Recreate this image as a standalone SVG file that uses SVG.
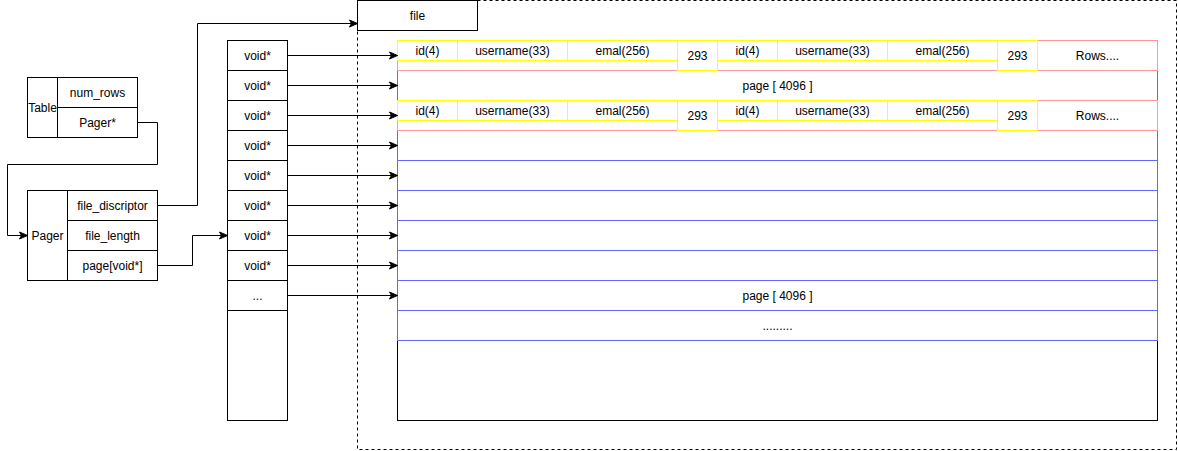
<svg xmlns="http://www.w3.org/2000/svg" width="1178" height="451" viewBox="0 0 1178 451">
<defs>
<marker id="arr" markerWidth="10" markerHeight="10" refX="9" refY="5" orient="auto" markerUnits="userSpaceOnUse">
<path d="M1,1.5 L9,5 L1,8.5 L3,5 Z" fill="#000" stroke="#000" stroke-width="1"/>
</marker>
</defs>
<style>
text{font-family:"Liberation Sans",Arial,sans-serif;font-size:12px;fill:#000;text-anchor:middle}
.b{fill:#fff;stroke:#000;stroke-width:1}
.bl{fill:none;stroke:#6666FF;stroke-width:1}
.pk{fill:none;stroke:#FF9999;stroke-width:1}
.yl{fill:none;stroke:#FFFF00;stroke-width:1}
.c{fill:none;stroke:#000;stroke-width:1;marker-end:url(#arr)}
</style>
<rect width="1178" height="451" fill="#fff"/>
<g id="file-container">
<rect x="357.5" y="0.5" width="819" height="449" fill="none" stroke="#000" stroke-dasharray="3,3"/>
</g>
<g id="file">
<rect class="b" x="357.5" y="0.5" width="120" height="30"/>
<text x="417.5" y="19.5">file</text>
</g>
<g id="table">
<rect class="b" x="27.5" y="77.5" width="110" height="60"/>
<line x1="57.5" y1="77.5" x2="57.5" y2="137.5" stroke="#000"/>
<line x1="57.5" y1="107.5" x2="137.5" y2="107.5" stroke="#000"/>
<text x="42.5" y="111.5">Table</text>
<text x="97.5" y="96.5">num_rows</text>
<text x="97.5" y="126.5">Pager*</text>
</g>
<g id="pager">
<rect class="b" x="27.5" y="190.5" width="130" height="90"/>
<line x1="67.5" y1="190.5" x2="67.5" y2="280.5" stroke="#000"/>
<line x1="67.5" y1="220.5" x2="157.5" y2="220.5" stroke="#000"/>
<line x1="67.5" y1="250.5" x2="157.5" y2="250.5" stroke="#000"/>
<text x="47.5" y="239.5">Pager</text>
<text x="112.5" y="209.5">file_discriptor</text>
<text x="112.5" y="239.5">file_length</text>
<text x="112.5" y="269.5">page[void*]</text>
</g>
<g id="void-array">
<rect class="b" x="227.5" y="40.5" width="60" height="380"/>
<path d="M227.5,70.5H287.5M227.5,100.5H287.5M227.5,130.5H287.5M227.5,160.5H287.5M227.5,190.5H287.5M227.5,220.5H287.5M227.5,250.5H287.5M227.5,280.5H287.5M227.5,310.5H287.5" stroke="#000" fill="none"/>
<text x="257.5" y="59.5">void*</text>
<text x="257.5" y="89.5">void*</text>
<text x="257.5" y="119.5">void*</text>
<text x="257.5" y="149.5">void*</text>
<text x="257.5" y="179.5">void*</text>
<text x="257.5" y="209.5">void*</text>
<text x="257.5" y="239.5">void*</text>
<text x="257.5" y="269.5">void*</text>
<text x="257.5" y="299.5">...</text>
</g>
<g id="pages">
<rect class="b" x="397.5" y="40.5" width="760" height="380"/>
<rect class="bl" x="397.5" y="70.5" width="760" height="30"/>
<rect class="bl" x="397.5" y="130.5" width="760" height="30"/>
<rect class="bl" x="397.5" y="160.5" width="760" height="30"/>
<rect class="bl" x="397.5" y="190.5" width="760" height="30"/>
<rect class="bl" x="397.5" y="220.5" width="760" height="30"/>
<rect class="bl" x="397.5" y="250.5" width="760" height="30"/>
<rect class="bl" x="397.5" y="280.5" width="760" height="30"/>
<rect class="bl" x="397.5" y="310.5" width="760" height="30"/>
<text x="777.5" y="89.5">page [ 4096 ]</text>
<text x="777.5" y="299.5">page [ 4096 ]</text>
<text x="777.5" y="329.5">.........</text>
</g>
<g id="row-1">
<rect class="pk" x="397.5" y="40.5" width="760" height="30" fill="#fff"/>
<rect class="yl" x="397.5" y="40.5" width="60" height="20"/>
<rect class="yl" x="457.5" y="40.5" width="110" height="20"/>
<rect class="yl" x="567.5" y="40.5" width="110" height="20"/>
<rect class="yl" x="677.5" y="40.5" width="40" height="30"/>
<rect class="yl" x="717.5" y="40.5" width="60" height="20"/>
<rect class="yl" x="777.5" y="40.5" width="110" height="20"/>
<rect class="yl" x="887.5" y="40.5" width="110" height="20"/>
<rect class="yl" x="997.5" y="40.5" width="40" height="30"/>
<text x="427.5" y="54.5">id(4)</text>
<text x="512.5" y="54.5">username(33)</text>
<text x="622.5" y="54.5">emal(256)</text>
<text x="697.5" y="60">293</text>
<text x="747.5" y="54.5">id(4)</text>
<text x="832.5" y="54.5">username(33)</text>
<text x="942.5" y="54.5">emal(256)</text>
<text x="1017.5" y="60">293</text>
<text x="1097.5" y="60">Rows....</text>
</g>
<g id="row-2">
<rect class="pk" x="397.5" y="100.5" width="760" height="30" fill="#fff"/>
<rect class="yl" x="397.5" y="100.5" width="60" height="20"/>
<rect class="yl" x="457.5" y="100.5" width="110" height="20"/>
<rect class="yl" x="567.5" y="100.5" width="110" height="20"/>
<rect class="yl" x="677.5" y="100.5" width="40" height="30"/>
<rect class="yl" x="717.5" y="100.5" width="60" height="20"/>
<rect class="yl" x="777.5" y="100.5" width="110" height="20"/>
<rect class="yl" x="887.5" y="100.5" width="110" height="20"/>
<rect class="yl" x="997.5" y="100.5" width="40" height="30"/>
<text x="427.5" y="114.5">id(4)</text>
<text x="512.5" y="114.5">username(33)</text>
<text x="622.5" y="114.5">emal(256)</text>
<text x="697.5" y="120">293</text>
<text x="747.5" y="114.5">id(4)</text>
<text x="832.5" y="114.5">username(33)</text>
<text x="942.5" y="114.5">emal(256)</text>
<text x="1017.5" y="120">293</text>
<text x="1097.5" y="120">Rows....</text>
</g>
<g id="connectors">
<path class="c" d="M137.5,122.5H157.5V164.5H7.5V235.5H27.5"/>
<path class="c" d="M157.5,205.5H197.5V23.5H357.5"/>
<path class="c" d="M157.5,265.5H192.5V235.5H227.5"/>
<path class="c" d="M287.5,55.5H397.5"/>
<path class="c" d="M287.5,85.5H397.5"/>
<path class="c" d="M287.5,115.5H397.5"/>
<path class="c" d="M287.5,145.5H397.5"/>
<path class="c" d="M287.5,175.5H397.5"/>
<path class="c" d="M287.5,205.5H397.5"/>
<path class="c" d="M287.5,235.5H397.5"/>
<path class="c" d="M287.5,265.5H397.5"/>
<path class="c" d="M287.5,295.5H397.5"/>
</g>
</svg>
